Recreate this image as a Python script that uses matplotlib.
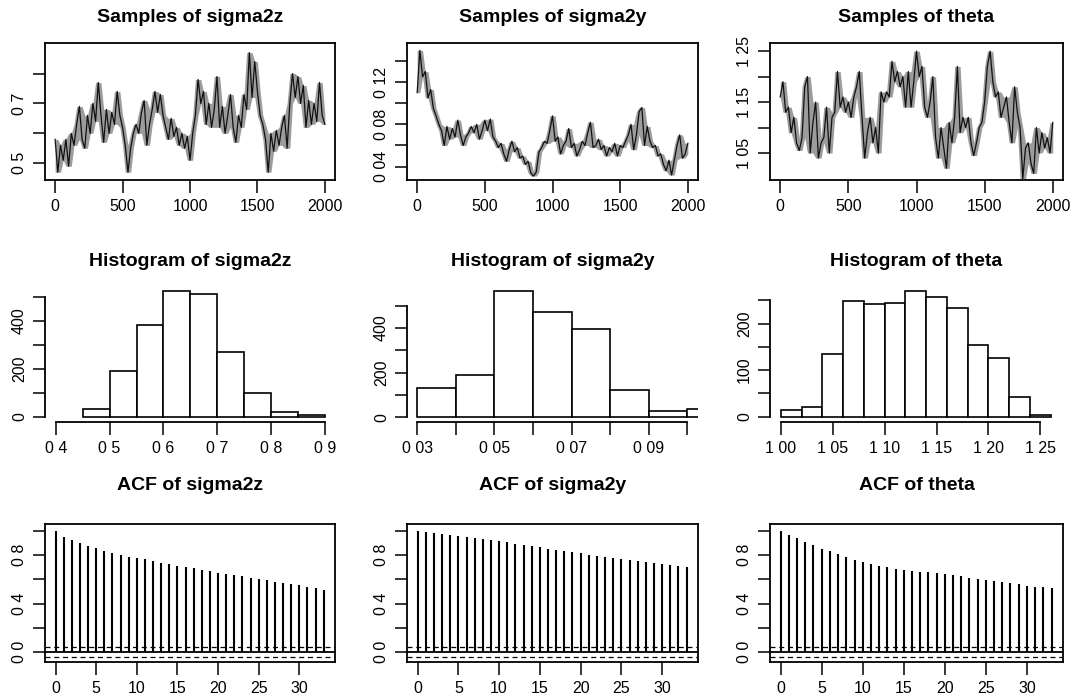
import matplotlib.pyplot as plt
import matplotlib as mpl
import numpy as np

mpl.rcParams['font.family'] = ['Liberation Sans', 'DejaVu Sans']
mpl.rcParams['font.size'] = 11

W, H = 1075, 698

# ================= 数据 =================
# trace: 每 20 次迭代读一个点 (从图上估计)
iters = np.arange(0, 2001, 20)

trace_sigma2z = [
    0.58, 0.47, 0.56, 0.51, 0.58, 0.49, 0.60, 0.56, 0.63, 0.69,
    0.58, 0.55, 0.66, 0.60, 0.70, 0.64, 0.77, 0.66, 0.57, 0.68,
    0.60, 0.67, 0.63, 0.74, 0.66, 0.62, 0.56, 0.47, 0.55, 0.60,
    0.63, 0.60, 0.67, 0.71, 0.56, 0.63, 0.68, 0.74, 0.67, 0.73,
    0.66, 0.62, 0.58, 0.65, 0.59, 0.62, 0.56, 0.60, 0.55, 0.59,
    0.51, 0.60, 0.66, 0.78, 0.70, 0.74, 0.63, 0.70, 0.62, 0.68,
    0.79, 0.62, 0.69, 0.60, 0.66, 0.73, 0.62, 0.57, 0.66, 0.62,
    0.73, 0.68, 0.87, 0.72, 0.84, 0.74, 0.66, 0.63, 0.58, 0.47,
    0.60, 0.54, 0.61, 0.56, 0.62, 0.66, 0.55, 0.70, 0.80, 0.72,
    0.79, 0.70, 0.76, 0.62, 0.71, 0.63, 0.70, 0.64, 0.77, 0.66,
    0.63,
]

trace_sigma2y = [
    0.110, 0.150, 0.125, 0.130, 0.105, 0.113, 0.095, 0.088, 0.080, 0.074,
    0.060, 0.078, 0.066, 0.076, 0.068, 0.084, 0.070, 0.060, 0.068, 0.072,
    0.078, 0.072, 0.080, 0.066, 0.074, 0.084, 0.074, 0.085, 0.068, 0.064,
    0.058, 0.062, 0.052, 0.045, 0.056, 0.064, 0.054, 0.058, 0.048, 0.050,
    0.042, 0.045, 0.034, 0.031, 0.035, 0.054, 0.058, 0.064, 0.062, 0.074,
    0.088, 0.064, 0.068, 0.052, 0.060, 0.064, 0.076, 0.058, 0.062, 0.050,
    0.056, 0.064, 0.060, 0.072, 0.082, 0.058, 0.060, 0.066, 0.056, 0.060,
    0.050, 0.058, 0.054, 0.062, 0.050, 0.060, 0.058, 0.064, 0.070, 0.080,
    0.056, 0.070, 0.092, 0.096, 0.060, 0.078, 0.064, 0.058, 0.060, 0.050,
    0.052, 0.042, 0.036, 0.046, 0.032, 0.046, 0.060, 0.070, 0.048, 0.052,
    0.062,
]

trace_theta = [
    1.16, 1.19, 1.13, 1.14, 1.09, 1.12, 1.07, 1.055, 1.08, 1.18,
    1.20, 1.05, 1.11, 1.15, 1.04, 1.07, 1.08, 1.14, 1.05, 1.12,
    1.13, 1.21, 1.14, 1.16, 1.13, 1.15, 1.12, 1.16, 1.18, 1.21,
    1.12, 1.04, 1.09, 1.12, 1.07, 1.10, 1.05, 1.17, 1.15, 1.17,
    1.16, 1.23, 1.19, 1.21, 1.18, 1.20, 1.14, 1.21, 1.14, 1.19,
    1.25, 1.20, 1.22, 1.14, 1.12, 1.15, 1.20, 1.08, 1.04, 1.10,
    1.06, 1.02, 1.11, 1.07, 1.12, 1.22, 1.09, 1.12, 1.10, 1.12,
    1.07, 1.045, 1.07, 1.10, 1.11, 1.15, 1.22, 1.25, 1.19, 1.16,
    1.17, 1.12, 1.14, 1.16, 1.11, 1.07, 1.18, 1.13, 1.10, 1.00,
    1.06, 1.07, 1.03, 1.01, 1.10, 1.05, 1.09, 1.06, 1.08, 1.05,
    1.11,
]

# histogram: 分箱边界 + 频数
breaks_sigma2z = [0.45, 0.50, 0.55, 0.60, 0.65, 0.70, 0.75, 0.80, 0.85, 0.90]
counts_sigma2z = [35, 192, 381, 525, 509, 268, 99, 21, 7]

breaks_sigma2y = [0.03, 0.04, 0.05, 0.06, 0.07, 0.08, 0.09, 0.10, 0.11]
counts_sigma2y = [130, 191, 568, 473, 398, 121, 27, 39]

breaks_theta = [1.00, 1.02, 1.04, 1.06, 1.08, 1.10, 1.12, 1.14, 1.16, 1.18,
                1.20, 1.22, 1.24, 1.26]
counts_theta = [15, 20, 134, 248, 242, 245, 270, 258, 234, 153, 126, 43, 3]

# ACF: lag 0..33
lags = np.arange(0, 34)
acf_sigma2z = [
    1.0, 0.948, 0.923, 0.898, 0.873, 0.856, 0.837, 0.820, 0.801, 0.787,
    0.776, 0.765, 0.749, 0.735, 0.724, 0.713, 0.702, 0.691, 0.677, 0.669,
    0.655, 0.644, 0.633, 0.624, 0.610, 0.602, 0.591, 0.580, 0.569, 0.561,
    0.550, 0.536, 0.528, 0.511,
]
acf_sigma2y = [
    1.0, 0.994, 0.983, 0.975, 0.964, 0.956, 0.948, 0.939, 0.931, 0.923,
    0.914, 0.906, 0.895, 0.884, 0.873, 0.864, 0.854, 0.843, 0.834, 0.823,
    0.815, 0.804, 0.796, 0.785, 0.776, 0.768, 0.760, 0.751, 0.743, 0.735,
    0.727, 0.718, 0.710, 0.704,
]
acf_theta = [
    1.0, 0.967, 0.939, 0.908, 0.881, 0.853, 0.833, 0.808, 0.789, 0.764,
    0.747, 0.731, 0.714, 0.700, 0.689, 0.681, 0.672, 0.664, 0.658, 0.653,
    0.642, 0.633, 0.625, 0.611, 0.603, 0.597, 0.589, 0.581, 0.567, 0.561,
    0.547, 0.539, 0.533, 0.525,
]
acf_ci = 0.044

names = ['sigma2z', 'sigma2y', 'theta']

# ================= 布局 (像素) =================
COLS = [(45, 335), (407, 698), (770, 1063)]
ROWS = [(43, 180), (285, 422), (524, 662)]
TITLE_Y = [18, 262, 485]


def make_ax(fig, col, row):
    l, r = COLS[col]
    t, b = ROWS[row]
    return fig.add_axes([l / W, 1 - b / H, (r - l) / W, (b - t) / H])


def r_ticks(ax, xt, xl, yt, yl):
    ax.set_xticks(xt)
    ax.set_xticklabels(xl)
    ax.set_yticks(yt)
    ax.set_yticklabels(yl, rotation=90, va='center')
    ax.tick_params(axis='both', direction='out', length=9, width=1.1,
                   labelsize=11.5)
    ax.tick_params(axis='x', pad=5)
    ax.tick_params(axis='y', pad=4)


fig = plt.figure(figsize=(W / 100, H / 100), dpi=100)

# ---- 第一行: trace ----
trace_data = [trace_sigma2z, trace_sigma2y, trace_theta]
trace_ylim = [(0.444, 0.902), (0.0273, 0.157), (0.997, 1.266)]
trace_yt = [[0.5, 0.6, 0.7, 0.8],
            [0.04, 0.06, 0.08, 0.10, 0.12, 0.14],
            [1.05, 1.10, 1.15, 1.20, 1.25]]
trace_yl = [['0 5', '', '0 7', ''],
            ['0 04', '', '0 08', '', '0 12', ''],
            ['1 05', '', '1 15', '', '1 25']]
for i in range(3):
    ax = make_ax(fig, i, 0)
    v = np.array(trace_data[i])
    # 相邻读数之间的范围画成灰色带, 模拟密集的采样轨迹
    lo = np.minimum(v, np.minimum(np.r_[v[0], v[:-1]], np.r_[v[1:], v[-1]]))
    hi = np.maximum(v, np.maximum(np.r_[v[0], v[:-1]], np.r_[v[1:], v[-1]]))
    ax.fill_between(iters, lo, hi, color='#9c9c9c', lw=0)
    ax.plot(iters, v, color='#111111', lw=0.9)
    ax.set_xlim(-75, 2075)
    ax.set_ylim(trace_ylim[i])
    r_ticks(ax, [0, 500, 1000, 1500, 2000], ['0', '500', '1000', '1500', '2000'],
            trace_yt[i], trace_yl[i])
    for s in ax.spines.values():
        s.set_linewidth(1.3)

# ---- 第二行: histogram ----
hist_breaks = [breaks_sigma2z, breaks_sigma2y, breaks_theta]
hist_counts = [counts_sigma2z, counts_sigma2y, counts_theta]
hist_xlim = [(0.38, 0.9186), (0.0273, 0.1028), (0.9894, 1.272)]
hist_ylim = [(-21, 548), (-21, 593), (-11.7, 283)]
hist_xt = [[0.4, 0.5, 0.6, 0.7, 0.8, 0.9],
           [0.03, 0.04, 0.05, 0.06, 0.07, 0.08, 0.09, 0.10],
           [1.00, 1.05, 1.10, 1.15, 1.20, 1.25]]
hist_xl = [['0 4', '0 5', '0 6', '0 7', '0 8', '0 9'],
           ['0 03', '', '0 05', '', '0 07', '', '0 09', ''],
           ['1 00', '1 05', '1 10', '1 15', '1 20', '1 25']]
hist_yt = [[0, 100, 200, 300, 400, 500],
           [0, 100, 200, 300, 400, 500],
           [0, 50, 100, 150, 200, 250]]
hist_yl = [['0', '', '200', '', '400', ''],
           ['0', '', '200', '', '400', ''],
           ['0', '', '100', '', '200', '']]
for i in range(3):
    ax = make_ax(fig, i, 1)
    br = np.array(hist_breaks[i])
    ax.bar(br[:-1], hist_counts[i], width=np.diff(br), align='edge',
           color='white', edgecolor='black', linewidth=1.2)
    ax.set_xlim(hist_xlim[i])
    ax.set_ylim(hist_ylim[i])
    r_ticks(ax, hist_xt[i], hist_xl[i], hist_yt[i], hist_yl[i])
    ax.spines['top'].set_visible(False)
    ax.spines['right'].set_visible(False)
    ax.spines['bottom'].set_bounds(hist_xt[i][0], hist_xt[i][-1])
    ax.spines['left'].set_bounds(hist_yt[i][0], hist_yt[i][-1])
    ax.spines['bottom'].set_linewidth(1.3)
    ax.spines['left'].set_linewidth(1.3)

# ---- 第三行: ACF ----
acf_data = [acf_sigma2z, acf_sigma2y, acf_theta]
for i in range(3):
    ax = make_ax(fig, i, 2)
    ax.vlines(lags, 0, acf_data[i], color='black', lw=1.5)
    ax.axhline(0, color='black', lw=1.3)
    ax.axhline(acf_ci, color='black', lw=0.9, ls=(0, (4, 3)))
    ax.axhline(-acf_ci, color='black', lw=0.9, ls=(0, (4, 3)))
    ax.set_xlim(-1.3, 34.4)
    ax.set_ylim(-0.083, 1.058)
    r_ticks(ax, [0, 5, 10, 15, 20, 25, 30], ['0', '5', '10', '15', '20', '25', '30'],
            [0, 0.2, 0.4, 0.6, 0.8, 1.0], ['0 0', '', '0 4', '', '0 8', ''])
    for s in ax.spines.values():
        s.set_linewidth(1.3)

# ---- 标题 ----
titles = [['Samples of ' + n for n in names],
          ['Histogram of ' + n for n in names],
          ['ACF of ' + n for n in names]]
for row in range(3):
    for col in range(3):
        l, r = COLS[col]
        fig.text((l + r) / 2 / W, 1 - TITLE_Y[row] / H, titles[row][col],
                 ha='center', va='center', fontsize=14, fontweight='bold')

fig.savefig('out.png', dpi=100)
